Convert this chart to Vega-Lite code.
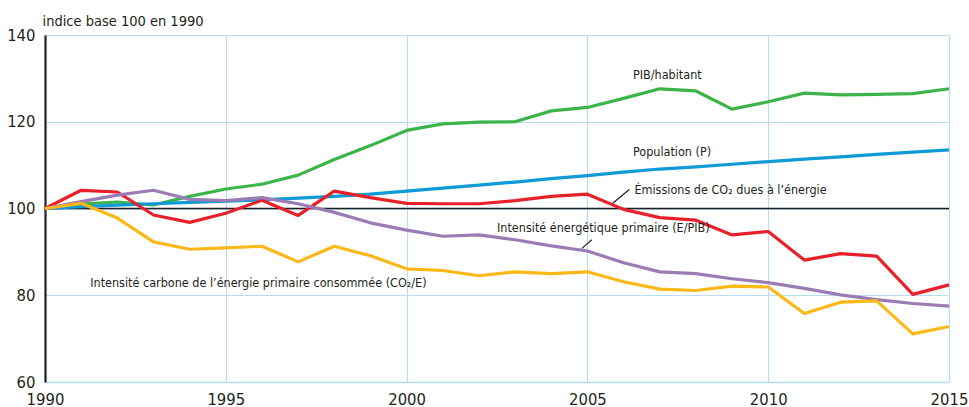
{
  "$schema": "https://vega.github.io/schema/vega-lite/v6.json",
  "width": 904,
  "height": 347,
  "autosize": {"type": "none"},
  "padding": {"left": 45, "top": 35, "right": 20, "bottom": 25},
  "background": "white",
  "config": {
    "view": {"stroke": null},
    "font": "DejaVu Sans Condensed, sans-serif"
  },
  "datasets": {
    "series": [
      {"year":1990,"s":"PIB","v":100},{"year":1991,"s":"PIB","v":101.0},{"year":1992,"s":"PIB","v":101.5},{"year":1993,"s":"PIB","v":100.8},{"year":1994,"s":"PIB","v":102.8},{"year":1995,"s":"PIB","v":104.5},{"year":1996,"s":"PIB","v":105.6},{"year":1997,"s":"PIB","v":107.7},{"year":1998,"s":"PIB","v":111.3},{"year":1999,"s":"PIB","v":114.5},{"year":2000,"s":"PIB","v":118.0},{"year":2001,"s":"PIB","v":119.5},{"year":2002,"s":"PIB","v":119.9},{"year":2003,"s":"PIB","v":120.0},{"year":2004,"s":"PIB","v":122.5},{"year":2005,"s":"PIB","v":123.3},{"year":2006,"s":"PIB","v":125.4},{"year":2007,"s":"PIB","v":127.6},{"year":2008,"s":"PIB","v":127.1},{"year":2009,"s":"PIB","v":122.9},{"year":2010,"s":"PIB","v":124.6},{"year":2011,"s":"PIB","v":126.6},{"year":2012,"s":"PIB","v":126.2},{"year":2013,"s":"PIB","v":126.3},{"year":2014,"s":"PIB","v":126.5},{"year":2015,"s":"PIB","v":127.6},
      {"year":1990,"s":"POP","v":100},{"year":1991,"s":"POP","v":100.4},{"year":1992,"s":"POP","v":100.8},{"year":1993,"s":"POP","v":101.1},{"year":1994,"s":"POP","v":101.4},{"year":1995,"s":"POP","v":101.7},{"year":1996,"s":"POP","v":102.0},{"year":1997,"s":"POP","v":102.4},{"year":1998,"s":"POP","v":102.8},{"year":1999,"s":"POP","v":103.3},{"year":2000,"s":"POP","v":104.0},{"year":2001,"s":"POP","v":104.7},{"year":2002,"s":"POP","v":105.4},{"year":2003,"s":"POP","v":106.1},{"year":2004,"s":"POP","v":106.9},{"year":2005,"s":"POP","v":107.6},{"year":2006,"s":"POP","v":108.4},{"year":2007,"s":"POP","v":109.1},{"year":2008,"s":"POP","v":109.6},{"year":2009,"s":"POP","v":110.2},{"year":2010,"s":"POP","v":110.8},{"year":2011,"s":"POP","v":111.4},{"year":2012,"s":"POP","v":111.9},{"year":2013,"s":"POP","v":112.5},{"year":2014,"s":"POP","v":113.0},{"year":2015,"s":"POP","v":113.5},
      {"year":1990,"s":"CO2","v":100},{"year":1991,"s":"CO2","v":104.2},{"year":1992,"s":"CO2","v":103.8},{"year":1993,"s":"CO2","v":98.5},{"year":1994,"s":"CO2","v":96.8},{"year":1995,"s":"CO2","v":98.9},{"year":1996,"s":"CO2","v":101.9},{"year":1997,"s":"CO2","v":98.4},{"year":1998,"s":"CO2","v":104.0},{"year":1999,"s":"CO2","v":102.5},{"year":2000,"s":"CO2","v":101.2},{"year":2001,"s":"CO2","v":101.1},{"year":2002,"s":"CO2","v":101.1},{"year":2003,"s":"CO2","v":101.8},{"year":2004,"s":"CO2","v":102.8},{"year":2005,"s":"CO2","v":103.3},{"year":2006,"s":"CO2","v":99.8},{"year":2007,"s":"CO2","v":97.9},{"year":2008,"s":"CO2","v":97.3},{"year":2009,"s":"CO2","v":93.9},{"year":2010,"s":"CO2","v":94.7},{"year":2011,"s":"CO2","v":88.1},{"year":2012,"s":"CO2","v":89.6},{"year":2013,"s":"CO2","v":89.0},{"year":2014,"s":"CO2","v":80.2},{"year":2015,"s":"CO2","v":82.4},
      {"year":1990,"s":"EPIB","v":100},{"year":1991,"s":"EPIB","v":101.6},{"year":1992,"s":"EPIB","v":103.1},{"year":1993,"s":"EPIB","v":104.2},{"year":1994,"s":"EPIB","v":102.1},{"year":1995,"s":"EPIB","v":101.8},{"year":1996,"s":"EPIB","v":102.5},{"year":1997,"s":"EPIB","v":101.1},{"year":1998,"s":"EPIB","v":99.1},{"year":1999,"s":"EPIB","v":96.7},{"year":2000,"s":"EPIB","v":95.0},{"year":2001,"s":"EPIB","v":93.6},{"year":2002,"s":"EPIB","v":93.9},{"year":2003,"s":"EPIB","v":92.8},{"year":2004,"s":"EPIB","v":91.4},{"year":2005,"s":"EPIB","v":90.2},{"year":2006,"s":"EPIB","v":87.5},{"year":2007,"s":"EPIB","v":85.4},{"year":2008,"s":"EPIB","v":85.0},{"year":2009,"s":"EPIB","v":83.8},{"year":2010,"s":"EPIB","v":82.9},{"year":2011,"s":"EPIB","v":81.6},{"year":2012,"s":"EPIB","v":80.1},{"year":2013,"s":"EPIB","v":79.0},{"year":2014,"s":"EPIB","v":78.1},{"year":2015,"s":"EPIB","v":77.5},
      {"year":1990,"s":"CO2E","v":100},{"year":1991,"s":"CO2E","v":101.2},{"year":1992,"s":"CO2E","v":97.8},{"year":1993,"s":"CO2E","v":92.3},{"year":1994,"s":"CO2E","v":90.6},{"year":1995,"s":"CO2E","v":90.9},{"year":1996,"s":"CO2E","v":91.3},{"year":1997,"s":"CO2E","v":87.7},{"year":1998,"s":"CO2E","v":91.3},{"year":1999,"s":"CO2E","v":89.1},{"year":2000,"s":"CO2E","v":86.1},{"year":2001,"s":"CO2E","v":85.7},{"year":2002,"s":"CO2E","v":84.5},{"year":2003,"s":"CO2E","v":85.4},{"year":2004,"s":"CO2E","v":85.0},{"year":2005,"s":"CO2E","v":85.4},{"year":2006,"s":"CO2E","v":83.1},{"year":2007,"s":"CO2E","v":81.4},{"year":2008,"s":"CO2E","v":81.1},{"year":2009,"s":"CO2E","v":82.1},{"year":2010,"s":"CO2E","v":81.9},{"year":2011,"s":"CO2E","v":75.8},{"year":2012,"s":"CO2E","v":78.4},{"year":2013,"s":"CO2E","v":78.7},{"year":2014,"s":"CO2E","v":71.1},{"year":2015,"s":"CO2E","v":72.8}
    ],
    "labels": [
      {"year":2006.26,"v":130.8,"t":"PIB/habitant"},
      {"year":2006.26,"v":113.0,"t":"Population (P)"},
      {"year":2006.3,"v":104.2,"t":"Émissions de CO₂ dues à l’énergie"},
      {"year":2002.5,"v":95.6,"t":"Intensité énergétique primaire (E/PIB)"},
      {"year":1991.25,"v":82.8,"t":"Intensité carbone de l’énergie primaire consommée (CO₂/E)"}
    ],
    "leaders": [
      {"x1":2005.70,"y1":101.2,"x2":2006.16,"y2":104.4},
      {"x1":2004.85,"y1":90.8,"x2":2005.12,"y2":92.8}
    ],
    "base": [{"v":100}]
  },
  "layer": [
    {
      "data": {"name": "base"},
      "mark": {"type": "rule", "color": "#231f20", "strokeWidth": 1.6},
      "encoding": {
        "y": {"field": "v", "type": "quantitative", "scale": {"domain": [60, 140], "nice": false, "zero": false},
          "axis": {"values": [60,80,100,120,140], "grid": true, "gridColor": "#b7dcf3", "gridWidth": 1.2, "domainColor": "#231f20", "domainWidth": 2.2, "ticks": false, "labelPadding": 10, "labelFontSize": 16.5, "labelColor": "#231f20",
            "title": "indice base 100 en 1990", "titleAngle": 0, "titleAlign": "left", "titleBaseline": "bottom", "titleX": -3, "titleY": -7, "titleFontSize": 14.5, "titleFontWeight": "normal", "titleColor": "#231f20"}}
      }
    },
    {
      "data": {"name": "series"},
      "mark": {"type": "line", "strokeWidth": 3.2, "strokeJoin": "round"},
      "encoding": {
        "x": {"field": "year", "type": "quantitative", "scale": {"domain": [1990, 2015], "nice": false, "zero": false},
          "axis": {"values": [1990,1995,2000,2005,2010,2015], "format": "d", "grid": true, "gridColor": "#b7dcf3", "gridWidth": 1.2, "domainColor": "#b7dcf3", "domainWidth": 1.5, "ticks": false, "labelPadding": 9, "labelFontSize": 16.5, "labelColor": "#231f20", "title": null, "labelFlush": false}},
        "y": {"field": "v", "type": "quantitative"},
        "color": {"field": "s", "type": "nominal", "legend": null,
          "scale": {"domain": ["PIB","POP","CO2","EPIB","CO2E"], "range": ["#3bb54a","#0e9ad7","#e8202a","#9a7bb6","#fbb817"]}},
        "order": {"field": "year"}
      }
    },
    {
      "data": {"name": "leaders"},
      "mark": {"type": "rule", "color": "#231f20", "strokeWidth": 1.2},
      "encoding": {
        "x": {"field": "x1", "type": "quantitative"},
        "y": {"field": "y1", "type": "quantitative"},
        "x2": {"field": "x2"},
        "y2": {"field": "y2"}
      }
    },
    {
      "data": {"name": "labels"},
      "mark": {"type": "text", "align": "left", "baseline": "middle", "fontSize": 12.5, "color": "#231f20"},
      "encoding": {
        "x": {"field": "year", "type": "quantitative"},
        "y": {"field": "v", "type": "quantitative"},
        "text": {"field": "t"}
      }
    }
  ]
}
